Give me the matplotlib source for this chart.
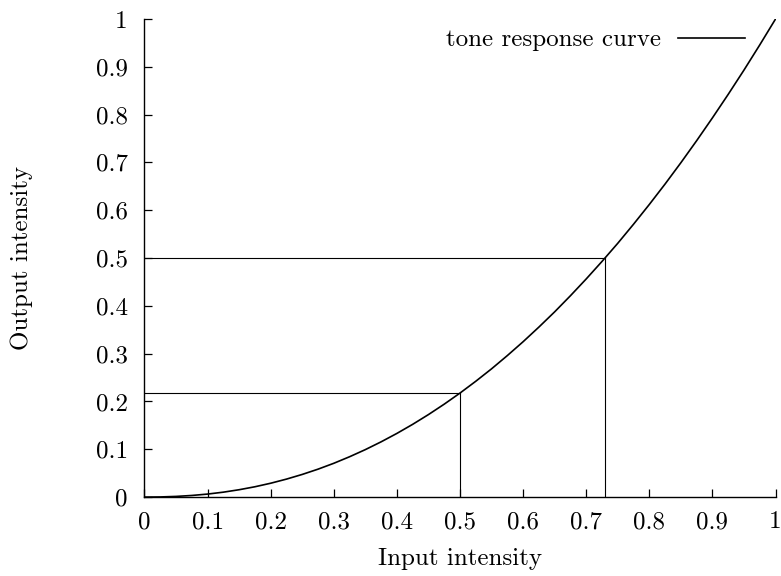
import matplotlib
matplotlib.use("Agg")
import matplotlib.pyplot as plt

# tone response curve
input_vals = [0.0, 0.025, 0.05, 0.075, 0.1, 0.125, 0.15, 0.175, 0.2, 0.225,
              0.25, 0.275, 0.3, 0.325, 0.35, 0.375, 0.4, 0.425, 0.45, 0.475,
              0.5, 0.525, 0.55, 0.575, 0.6, 0.625, 0.65, 0.675, 0.7, 0.725,
              0.75, 0.775, 0.8, 0.825, 0.85, 0.875, 0.9, 0.925, 0.95, 0.975, 1.0]
output_vals = [0.0, 0.0003, 0.0014, 0.0034, 0.0063, 0.0103, 0.0154, 0.0216,
               0.029, 0.0376, 0.0474, 0.0584, 0.0707, 0.0844, 0.0993, 0.1156,
               0.1332, 0.1522, 0.1726, 0.1944, 0.2176, 0.2423, 0.2683, 0.296,
               0.325, 0.3556, 0.3875, 0.4212, 0.4563, 0.4929, 0.5309, 0.5708,
               0.6121, 0.6549, 0.6994, 0.7455, 0.7932, 0.8424, 0.8932, 0.9458, 1.0]

# guide points (input, output)
guide_x = [0.5, 0.7297]
guide_y = [0.2176, 0.5]

ticks = [0, 0.1, 0.2, 0.3, 0.4, 0.5, 0.6, 0.7, 0.8, 0.9, 1]
tick_labels = ["0", "0.1", "0.2", "0.3", "0.4", "0.5", "0.6", "0.7", "0.8", "0.9", "1"]

plt.rcParams["font.family"] = ["cmr10", "DejaVu Serif"]
plt.rcParams["mathtext.fontset"] = "cm"
plt.rcParams["axes.formatter.use_mathtext"] = True

fig = plt.figure(figsize=(7.81, 5.76), dpi=100)
ax = fig.add_axes([0.185, 0.137, 0.808, 0.830])

ax.plot(input_vals, output_vals, color="black", lw=1.2, label="tone response curve")
for gx, gy in zip(guide_x, guide_y):
    ax.plot([0, gx], [gy, gy], color="black", lw=0.8)
    ax.plot([gx, gx], [0, gy], color="black", lw=0.8)

ax.set_xlim(0, 1)
ax.set_ylim(0, 1)
ax.set_xticks(ticks)
ax.set_xticklabels(tick_labels)
ax.set_yticks(ticks)
ax.set_yticklabels(tick_labels)
ax.tick_params(direction="in", length=6, width=0.9, labelsize=18)
ax.tick_params(axis="x", pad=10)
ax.tick_params(axis="y", pad=12)
for side in ["top", "right"]:
    ax.spines[side].set_visible(False)
for side in ["left", "bottom"]:
    ax.spines[side].set_linewidth(1.0)

ax.set_xlabel("Input intensity", fontsize=18, va="top")
ax.xaxis.set_label_coords(0.5, -0.106)
ax.set_ylabel("Output intensity", fontsize=18)
ax.yaxis.set_label_coords(-0.176, 0.5)

ax.legend(loc="center right", frameon=False, markerfirst=False, fontsize=18,
          handlelength=2.7, handletextpad=0.68, borderpad=0, borderaxespad=0,
          bbox_to_anchor=(0.952, 0.956))

fig.savefig("out.png", dpi=100)
